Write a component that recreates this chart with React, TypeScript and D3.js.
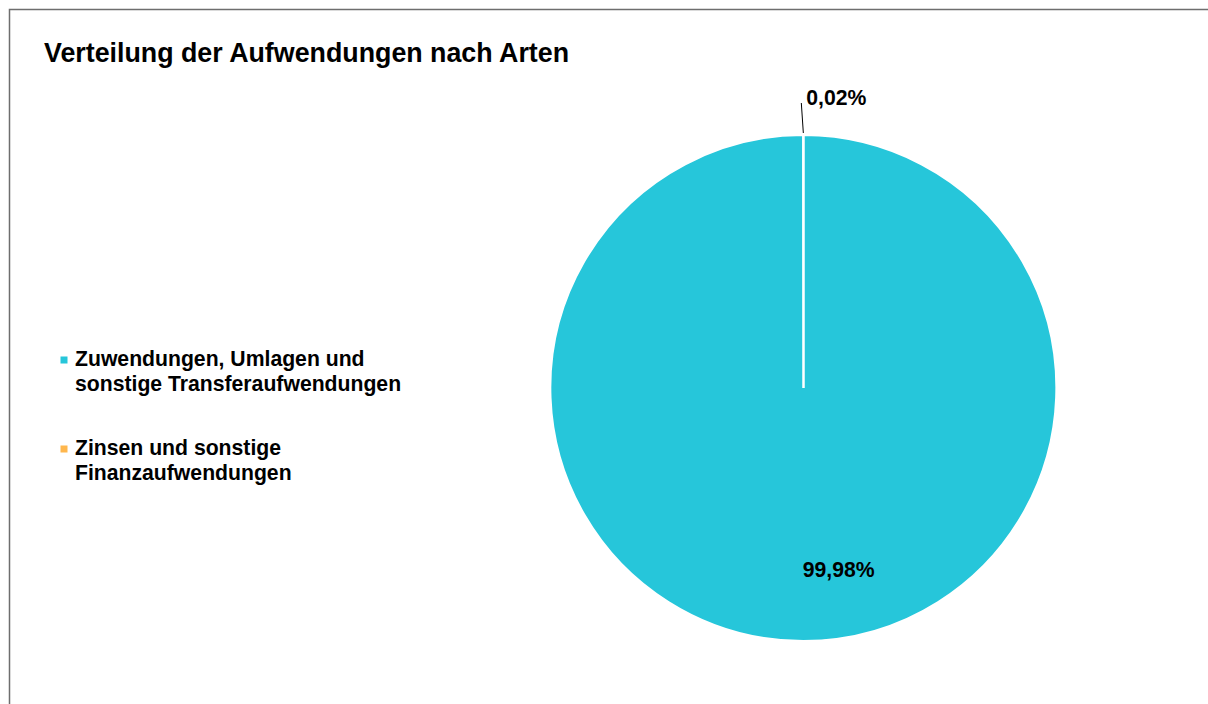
import React from "react";
import * as d3 from "d3";

const categories = [
  "Zuwendungen, Umlagen und sonstige Transferaufwendungen",
  "Zinsen und sonstige Finanzaufwendungen",
];
const legendLines = [
  ["Zuwendungen, Umlagen und", "sonstige Transferaufwendungen"],
  ["Zinsen und sonstige", "Finanzaufwendungen"],
];
const values = [99.98, 0.02];
const labels = ["99,98%", "0,02%"];
const colors = ["#26C6DA", "#FFB74D"];
const title = "Verteilung der Aufwendungen nach Arten";

const W = 1208;
const H = 704;
const cx = 803.5;
const cy = 388;
const R = 253;

export default function App() {
  const pie = d3.pie<number>().sort(null).value((d) => d)(values);
  const arc = d3.arc<d3.PieArcDatum<number>>().innerRadius(0).outerRadius(R);
  const font = "'Liberation Sans', Arial, sans-serif";

  const big = pie[0];
  const small = pie[1];
  const midSmall = (small.startAngle + small.endAngle) / 2;
  const p1 = [Math.sin(midSmall) * (R + 2), -Math.cos(midSmall) * (R + 2)];
  const p2 = [Math.sin(midSmall) * (R + 32) - 2, -Math.cos(midSmall) * (R + 32)];
  const midBig = (big.startAngle + big.endAngle) / 2;
  const bigPos = [Math.sin(midBig) * R * 0.72 + 35, -Math.cos(midBig) * R * 0.72];

  return (
    <svg
      width={W}
      height={H}
      style={{ position: "absolute", left: 0, top: 0, display: "block" }}
    >
      <rect x={0} y={0} width={W} height={H} fill="#fff" />
      <rect x={9.5} y={9.5} width={W + 20} height={H + 20} fill="none" stroke="#6e6e6e" strokeWidth={1.5} />
      <text x={44} y={62} fontFamily={font} fontWeight="bold" fontSize={26.8} fill="#000">
        {title}
      </text>
      <g transform={`translate(${cx},${cy})`}>
        {pie.map((d, i) => (
          <path key={categories[i]} d={arc(d) || ""} fill={colors[i]} stroke="#fff" strokeWidth={2} />
        ))}
        <line x1={p1[0]} y1={p1[1]} x2={p2[0]} y2={p2[1]} stroke="#000" strokeWidth={1} />
        <text x={p2[0] + 5} y={p2[1] + 2} fontFamily={font} fontWeight="bold" fontSize={21.2} fill="#000">
          {labels[1]}
        </text>
        <text x={bigPos[0]} y={bigPos[1] + 7} textAnchor="middle" fontFamily={font} fontWeight="bold" fontSize={21.2} fill="#000">
          {labels[0]}
        </text>
      </g>
      {legendLines.map((lines, i) => {
        const y0 = 365.5 + i * 89;
        return (
          <g key={categories[i]}>
            <rect x={60.5} y={y0 - 9} width={7} height={7} fill={colors[i]} />
            {lines.map((l, j) => (
              <text key={j} x={75} y={y0 + j * 25} fontFamily={font} fontWeight="bold" fontSize={21.2} fill="#000">
                {l}
              </text>
            ))}
          </g>
        );
      })}
    </svg>
  );
}
